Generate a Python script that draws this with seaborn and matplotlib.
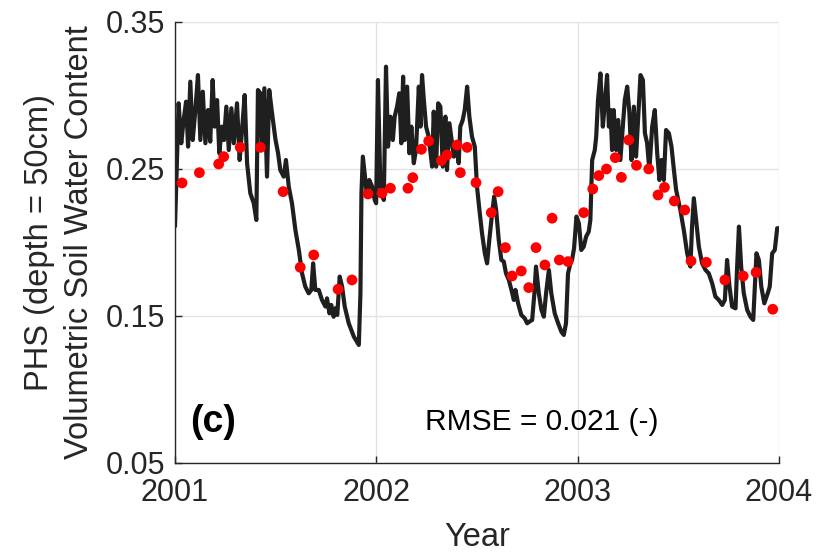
import matplotlib
matplotlib.use("Agg")
import matplotlib.pyplot as plt
import seaborn as sns
import pandas as pd

# ---- data (years as decimal offsets from 2001) ----
base_year = 2001
sim_t = [0.000, 0.005, 0.018, 0.031, 0.043, 0.055, 0.065, 0.076, 0.088, 0.101,
         0.114, 0.126, 0.138, 0.151, 0.164, 0.175, 0.187, 0.197, 0.209, 0.220,
         0.233, 0.243, 0.255, 0.267, 0.280, 0.292, 0.308, 0.321, 0.333, 0.346,
         0.358, 0.374, 0.391, 0.404, 0.412, 0.424, 0.432, 0.444, 0.457, 0.468,
         0.482, 0.499, 0.512, 0.523, 0.540, 0.551, 0.565, 0.581, 0.598, 0.615,
         0.631, 0.647, 0.664, 0.677, 0.686, 0.697, 0.714, 0.730, 0.747, 0.755,
         0.767, 0.776, 0.788, 0.796, 0.806, 0.818, 0.830, 0.843, 0.863, 0.888,
         0.913, 0.921, 0.926, 0.933, 0.942, 0.954, 0.965, 0.979, 0.992, 0.999,
         1.008, 1.020, 1.037, 1.048, 1.058, 1.070, 1.082, 1.091, 1.103, 1.114,
         1.124, 1.133, 1.141, 1.153, 1.164, 1.174, 1.186, 1.197, 1.211, 1.219,
         1.227, 1.236, 1.247, 1.260, 1.277, 1.285, 1.297, 1.307, 1.318, 1.330,
         1.343, 1.351, 1.363, 1.376, 1.385, 1.396, 1.409, 1.417, 1.429, 1.439,
         1.451, 1.462, 1.475, 1.489, 1.500, 1.512, 1.525, 1.539, 1.550, 1.561,
         1.575, 1.585, 1.595, 1.608, 1.621, 1.633, 1.644, 1.658, 1.671, 1.683,
         1.691, 1.704, 1.720, 1.737, 1.749, 1.760, 1.774, 1.785, 1.793, 1.807,
         1.820, 1.832, 1.843, 1.857, 1.869, 1.886, 1.903, 1.919, 1.931, 1.942,
         1.952, 1.964, 1.972, 1.982, 1.994, 2.006, 2.018, 2.030, 2.042, 2.055,
         2.063, 2.072, 2.085, 2.092, 2.101, 2.113, 2.125, 2.135, 2.146, 2.155,
         2.163, 2.171, 2.179, 2.191, 2.201, 2.212, 2.224, 2.234, 2.246, 2.257,
         2.267, 2.279, 2.290, 2.300, 2.312, 2.324, 2.334, 2.345, 2.356, 2.370,
         2.383, 2.395, 2.406, 2.416, 2.428, 2.439, 2.453, 2.466, 2.478, 2.489,
         2.510, 2.527, 2.544, 2.560, 2.568, 2.577, 2.588, 2.602, 2.618, 2.635,
         2.651, 2.668, 2.684, 2.701, 2.718, 2.731, 2.742, 2.754, 2.767, 2.784,
         2.792, 2.801, 2.812, 2.825, 2.842, 2.858, 2.872, 2.880, 2.888, 2.900,
         2.912, 2.927, 2.944, 2.954, 2.966, 2.979, 2.991, 2.999]
sim_vwc = [0.211, 0.2335, 0.2947, 0.2675, 0.2833, 0.2958, 0.2652, 0.3094, 0.2697, 0.2901,
           0.3139, 0.2697, 0.3026, 0.2675, 0.2901, 0.2686, 0.3105, 0.2788, 0.2969, 0.2607,
           0.2788, 0.2697, 0.2924, 0.2629, 0.2913, 0.2675, 0.2947, 0.2561, 0.2765, 0.3003,
           0.2539, 0.2335, 0.2267, 0.2153, 0.3037, 0.3015, 0.2629, 0.3049, 0.2448, 0.3037,
           0.2879, 0.2700, 0.2607, 0.2493, 0.2448, 0.2561, 0.2380, 0.2267, 0.2085, 0.1949,
           0.1790, 0.1700, 0.1654, 0.1677, 0.1858, 0.1677, 0.1677, 0.1609, 0.1564, 0.1620,
           0.1518, 0.1575, 0.1495, 0.1552, 0.1507, 0.1768, 0.1700, 0.1564, 0.1450, 0.1360,
           0.1303, 0.1654, 0.2335, 0.2584, 0.2470, 0.2312, 0.2425, 0.2380, 0.2289, 0.2267,
           0.3105, 0.2380, 0.2289, 0.3196, 0.2652, 0.2856, 0.2697, 0.2856, 0.2924, 0.3015,
           0.2675, 0.3128, 0.2697, 0.3060, 0.2607, 0.2788, 0.2539, 0.2629, 0.3060, 0.2788,
           0.3139, 0.2969, 0.2788, 0.2720, 0.2516, 0.2890, 0.2516, 0.2947, 0.2924, 0.2516,
           0.2856, 0.2493, 0.2811, 0.2675, 0.2584, 0.2675, 0.2539, 0.2788, 0.2833, 0.2901,
           0.3060, 0.2856, 0.2720, 0.2652, 0.2380, 0.2221, 0.2062, 0.1926, 0.1858, 0.2017,
           0.2198, 0.2312, 0.2221, 0.2017, 0.1881, 0.1870, 0.1790, 0.1745, 0.1677, 0.1609,
           0.1677, 0.1586, 0.1507, 0.1484, 0.1450, 0.1461, 0.1473, 0.1654, 0.1836, 0.1654,
           0.1541, 0.1495, 0.1654, 0.1813, 0.1654, 0.1518, 0.1450, 0.1393, 0.1371, 0.1450,
           0.1790, 0.1858, 0.1881, 0.1960, 0.2176, 0.2130, 0.1949, 0.1971, 0.2040, 0.2074,
           0.2153, 0.2561, 0.2629, 0.2720, 0.2969, 0.3150, 0.2788, 0.2947, 0.3139, 0.2788,
           0.2901, 0.2629, 0.2901, 0.2629, 0.2833, 0.2561, 0.2788, 0.2969, 0.3060, 0.2879,
           0.2561, 0.2924, 0.2584, 0.2833, 0.3139, 0.3105, 0.2743, 0.2675, 0.2493, 0.2788,
           0.2901, 0.2607, 0.2425, 0.2561, 0.2425, 0.2765, 0.2743, 0.2652, 0.2493, 0.2357,
           0.2221, 0.2085, 0.1926, 0.1836, 0.2108, 0.2301, 0.2153, 0.1971, 0.1858, 0.1813,
           0.1790, 0.1722, 0.1632, 0.1609, 0.1575, 0.1609, 0.1881, 0.1700, 0.1564, 0.1552,
           0.1836, 0.2108, 0.1836, 0.1654, 0.1541, 0.1495, 0.1473, 0.1700, 0.1926, 0.1881,
           0.1700, 0.1586, 0.1654, 0.1700, 0.1926, 0.1949, 0.2097, 0.2097]

obs_t = [0.035, 0.121, 0.217, 0.242, 0.324, 0.424, 0.537, 0.622, 0.689, 0.810,
         0.879, 0.959, 1.028, 1.070, 1.157, 1.181, 1.224, 1.260, 1.323, 1.351,
         1.401, 1.417, 1.451, 1.495, 1.571, 1.605, 1.641, 1.674, 1.720, 1.757,
         1.793, 1.837, 1.873, 1.909, 1.952, 2.030, 2.075, 2.105, 2.143, 2.187,
         2.217, 2.254, 2.292, 2.353, 2.399, 2.431, 2.480, 2.532, 2.563, 2.639,
         2.731, 2.822, 2.886, 2.969]
obs_vwc = [0.2405, 0.2475, 0.2534, 0.2584, 0.2647, 0.2647, 0.2346, 0.1831, 0.1915, 0.1682,
           0.1745, 0.2330, 0.2335, 0.2369, 0.2369, 0.2441, 0.2634, 0.2690, 0.2557, 0.2595,
           0.2663, 0.2475, 0.2647, 0.2407, 0.2203, 0.2346, 0.1965, 0.1772, 0.1806, 0.1693,
           0.1965, 0.1847, 0.2165, 0.1881, 0.1870, 0.2203, 0.2364, 0.2455, 0.2500, 0.2577,
           0.2443, 0.2697, 0.2525, 0.2500, 0.2323, 0.2375, 0.2282, 0.2221, 0.1874, 0.1865,
           0.1745, 0.1772, 0.1797, 0.1546]

x_ticks = [2001, 2002, 2003, 2004]
y_ticks = [0.05, 0.15, 0.25, 0.35]
x_label = "Year"
y_label = "PHS (depth = 50cm)\nVolumetric Soil Water Content"
panel_tag = "(c)"
rmse_text = "RMSE = 0.021 (-)"

sim = pd.DataFrame({"year": [base_year + t for t in sim_t], "vwc": sim_vwc})
obs = pd.DataFrame({"year": [base_year + t for t in obs_t], "vwc": obs_vwc})

sns.set_theme(style="ticks")
plt.rcParams["font.family"] = ["Liberation Sans", "DejaVu Sans"]
txt = "#262626"

fig = plt.figure(figsize=(8.17, 5.58), dpi=100)
ax = fig.add_axes([0.2142, 0.1703, 0.7393, 0.7903])

ax.grid(True, color="#e3e3e3", linewidth=1.0, zorder=0)
sns.lineplot(data=sim, x="year", y="vwc", ax=ax, color="#1f1f1f", linewidth=3.0,
             estimator=None, sort=False, zorder=2)
sns.scatterplot(data=obs, x="year", y="vwc", ax=ax, color="#ff0000", s=60,
                edgecolor="none", linewidth=0, zorder=3)

ax.set_xlim(2001, 2004)
ax.set_ylim(0.05, 0.35)
ax.set_xticks(x_ticks)
ax.set_xticklabels([str(v) for v in x_ticks])
ax.set_yticks(y_ticks)
ax.set_yticklabels([f"{v:.2f}" for v in y_ticks])

for s in ["top", "right"]:
    ax.spines[s].set_visible(False)
for s in ["left", "bottom"]:
    ax.spines[s].set_color(txt)
    ax.spines[s].set_linewidth(1.0)
ax.tick_params(direction="in", length=5, width=1.0, colors=txt,
               labelsize=22, labelcolor=txt)
ax.tick_params(axis="x", pad=11)
ax.tick_params(axis="y", pad=7)

ax.set_xlabel(x_label, fontsize=23.5, color=txt, labelpad=10)
ax.set_ylabel(y_label, fontsize=23.5, color=txt, labelpad=8, linespacing=1.35)

ax.text(2001.075, 0.078, panel_tag, fontsize=27, fontweight="bold",
        color="black", ha="left", va="center")
ax.text(2002.823, 0.078, rmse_text, fontsize=21.5, color="black",
        ha="center", va="center")

fig.savefig("out.png", dpi=100)
